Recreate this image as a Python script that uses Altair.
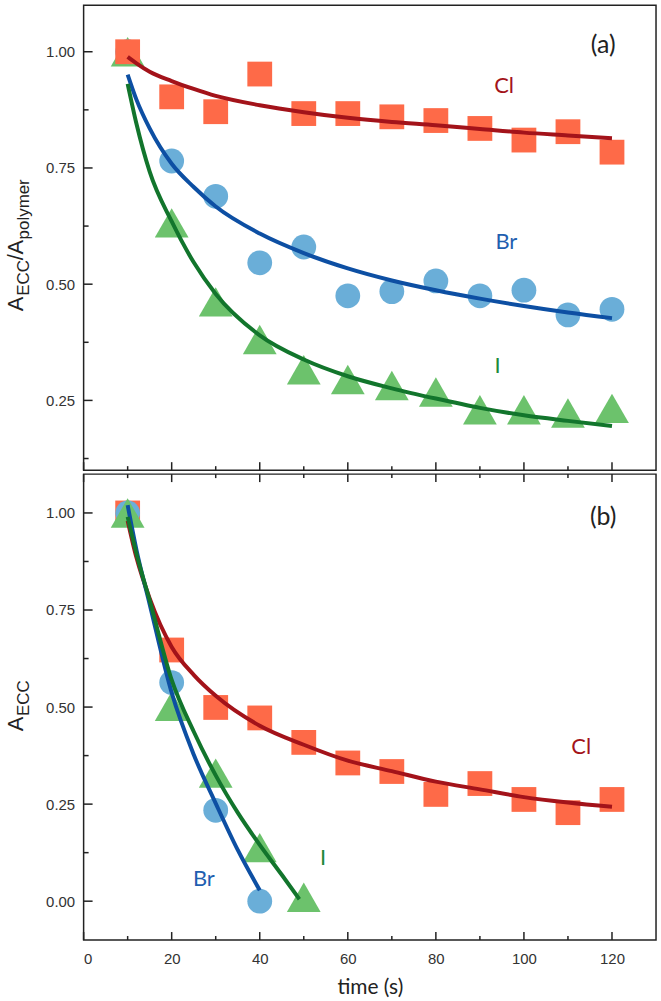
import altair as alt
import pandas as pd

# ---------------- data ----------------
t = [10, 20, 30, 40, 50, 60, 70, 80, 90, 100, 110, 120]

# panel (a)  A_ECC / A_polymer
a_cl = [1.00, 0.903, 0.871, 0.952, 0.867, 0.867, 0.860, 0.852, 0.835, 0.810, 0.828, 0.784]
a_br = [1.00, 0.765, 0.689, 0.546, 0.580, 0.475, 0.484, 0.507, 0.475, 0.487, 0.434, 0.446]
a_i = [1.00, 0.632, 0.462, 0.381, 0.316, 0.295, 0.282, 0.268, 0.230, 0.230, 0.223, 0.233]

fit_t_a = [10, 12, 15, 20, 25, 30, 40, 50, 60, 70, 80, 90, 100, 110, 120]
a_cl_fit = [0.989, 0.975, 0.957, 0.937, 0.920, 0.905, 0.885, 0.870, 0.858, 0.849, 0.842, 0.834, 0.826, 0.820, 0.814]
a_br_fit = [0.951, 0.897, 0.835, 0.759, 0.709, 0.667, 0.609, 0.567, 0.534, 0.508, 0.487, 0.469, 0.453, 0.439, 0.427]
a_i_fit = [0.931, 0.845, 0.742, 0.635, 0.547, 0.479, 0.390, 0.338, 0.302, 0.276, 0.254, 0.234, 0.218, 0.206, 0.195]

# panel (b)  A_ECC
b_cl = [1.00, 0.647, 0.499, 0.472, 0.409, 0.356, 0.334, 0.275, 0.303, 0.262, 0.228, 0.262]
t_b_br = [10, 20, 30, 40]
b_br = [1.00, 0.563, 0.234, 0.00]
t_b_i = [10, 20, 30, 40, 50]
b_i = [1.00, 0.502, 0.330, 0.138, 0.010]

fit_t_b_cl = [10, 12, 15, 20, 25, 30, 40, 50, 60, 70, 80, 90, 100, 110, 120]
b_cl_fit = [0.980, 0.885, 0.780, 0.655, 0.583, 0.529, 0.452, 0.403, 0.362, 0.335, 0.308, 0.288, 0.268, 0.254, 0.243]
fit_t_b_br = [10, 12, 15, 20, 25, 30, 35, 40]
b_br_fit = [1.02, 0.905, 0.765, 0.537, 0.378, 0.252, 0.132, 0.028]
fit_t_b_i = [10, 12, 15, 20, 25, 30, 35, 40, 45, 49]
b_i_fit = [0.99, 0.895, 0.775, 0.570, 0.437, 0.324, 0.228, 0.145, 0.068, 0.005]

x_major = [0, 20, 40, 60, 80, 100, 120]
x_minor = [10, 30, 50, 70, 90, 110]
ya_major = [0.25, 0.50, 0.75, 1.00]
ya_minor = [0.125, 0.375, 0.625, 0.875]
yb_major = [0.00, 0.25, 0.50, 0.75, 1.00]
yb_minor = [0.125, 0.375, 0.625, 0.875]

labels_a = pd.DataFrame({"t": [118, 95.5, 96, 94], "v": [1.014, 0.927, 0.591, 0.325],
                         "txt": ["(a)", "Cl", "Br", "I"], "c": ["#222222", "#a3131a", "#1f5fb0", "#1e8a3a"],
                         "s": [25, 22, 22, 22]})
labels_b = pd.DataFrame({"t": [118, 113, 27.3, 54.4], "v": [0.99, 0.397, 0.056, 0.110],
                         "txt": ["(b)", "Cl", "Br", "I"], "c": ["#222222", "#a3131a", "#1f5fb0", "#1e8a3a"],
                         "s": [25, 22, 22, 22]})

# ---------------- styling ----------------
SQ = "#fe6a48"
CI = "#6aaed8"
TR = "#6cc26c"
CL_LINE = "#a3131a"
BR_LINE = "#0d4fa3"
I_LINE = "#12752c"
TRI = "M-1,0.87L0,-0.87L1,0.87Z"

W = 575
HA = 467
HB = 468

xscale = alt.Scale(domain=[0, 130], nice=False, zero=False)
ya_scale = alt.Scale(domain=[0.1, 1.1], nice=False, zero=False)
yb_scale = alt.Scale(domain=[-0.1, 1.1], nice=False, zero=False)

xa_axis = None
xb_axis = alt.Axis(values=x_major, format="d", ticks=False, domain=False, grid=False,
                   title="time (s)", labelPadding=12, titlePadding=10)
ya_axis = alt.Axis(values=ya_major, format=".2f", ticks=False, domain=False, grid=False,
                   title=None, labelPadding=9)
yb_axis = alt.Axis(values=yb_major, format=".2f", ticks=False, domain=False, grid=False,
                   title=None, labelPadding=9)


def enc(xaxis, yscale, yaxis):
    return dict(x=alt.X("t:Q", scale=xscale, axis=xaxis),
                y=alt.Y("v:Q", scale=yscale, axis=yaxis))


def pts(tv, vv, shape, color, size, xaxis, yscale, yaxis):
    df = pd.DataFrame({"t": tv, "v": vv})
    return alt.Chart(df).mark_point(shape=shape, filled=True, opacity=1, size=size,
                                    color=color, strokeWidth=0).encode(**enc(xaxis, yscale, yaxis))


def fit(tv, vv, color, xaxis, yscale, yaxis):
    df = pd.DataFrame({"t": tv, "v": vv})
    return alt.Chart(df).mark_line(color=color, strokeWidth=4, interpolate="monotone").encode(
        **enc(xaxis, yscale, yaxis))


def yticks(vals, length, xaxis, yscale, yaxis):
    df = pd.DataFrame({"v": vals})
    return alt.Chart(df).mark_rule(color="#222", strokeWidth=1.5).encode(
        y=alt.Y("v:Q", scale=yscale, axis=yaxis), x=alt.value(0), x2=alt.value(length))


def xticks(vals, length, H, top, xaxis, yscale, yaxis):
    df = pd.DataFrame({"t": vals})
    if top:
        return alt.Chart(df).mark_rule(color="#222", strokeWidth=1.5).encode(
            x=alt.X("t:Q", scale=xscale, axis=xaxis), y=alt.value(0), y2=alt.value(length))
    return alt.Chart(df).mark_rule(color="#222", strokeWidth=1.5).encode(
        x=alt.X("t:Q", scale=xscale, axis=xaxis), y=alt.value(H), y2=alt.value(H - length))


def labels(df, xaxis, yscale, yaxis):
    return alt.Chart(df).mark_text(font="Lato", align="center", baseline="middle").encode(
        text="txt:N", color=alt.Color("c:N", scale=None), size=alt.Size("s:Q", scale=None),
        **enc(xaxis, yscale, yaxis))


def title_piece(txt, xpx, ypx, size):
    return alt.Chart(pd.DataFrame({"k": [0]})).mark_text(
        font="Liberation Sans", fontSize=size, angle=270, align="center", baseline="alphabetic",
        color="#222").encode(x=alt.value(xpx), y=alt.value(ypx), text=alt.value(txt))


# ---------------- panel (a) ----------------
A = (xa_axis, ya_scale, ya_axis)
panel_a = alt.layer(
    pts(t, a_i, TRI, TR, 1150, *A),
    pts(t, a_br, "circle", CI, 620, *A),
    pts(t, a_cl, "square", SQ, 620, *A),
    fit(fit_t_a, a_cl_fit, CL_LINE, *A),
    fit(fit_t_a, a_br_fit, BR_LINE, *A),
    fit(fit_t_a, a_i_fit, I_LINE, *A),
    yticks(ya_major, 9, *A),
    yticks(ya_minor, 5, *A),
    xticks(x_major, 8, HA, False, *A),
    xticks(x_minor, 4, HA, False, *A),
    labels(labels_a, *A),
    title_piece("A", -61, 300, 22),
    title_piece("ECC", -55, 274, 17),
    title_piece("/", -61, 253, 22),
    title_piece("A", -61, 243, 22),
    title_piece("polymer", -55, 205, 17),
).properties(width=W, height=HA)

# ---------------- panel (b) ----------------
B = (xb_axis, yb_scale, yb_axis)
panel_b = alt.layer(
    pts(t, b_cl, "square", SQ, 620, *B),
    pts(t_b_br, b_br, "circle", CI, 620, *B),
    pts(t_b_i, b_i, TRI, TR, 1150, *B),
    fit(fit_t_b_cl, b_cl_fit, CL_LINE, *B),
    fit(fit_t_b_br, b_br_fit, BR_LINE, *B),
    fit(fit_t_b_i, b_i_fit, I_LINE, *B),
    yticks(yb_major, 9, *B),
    yticks(yb_minor, 5, *B),
    xticks(x_major, 8, HB, False, *B),
    xticks(x_minor, 4, HB, False, *B),
    xticks(x_major, 8, HB, True, *B),
    xticks(x_minor, 4, HB, True, *B),
    labels(labels_b, *B),
    title_piece("A", -61, 251, 22),
    title_piece("ECC", -55, 225, 17),
).properties(width=W, height=HB)

chart = alt.vconcat(panel_a, panel_b, spacing=0).properties(
    padding={"left": 4, "top": 2, "right": 4, "bottom": 2},
    background="white",
).configure_view(
    stroke="#222", strokeWidth=1.5
).configure_axis(
    labelFont="Liberation Sans", labelFontSize=15, labelColor="#333",
    titleFont="Lato", titleFontSize=21, titleFontWeight="normal", titleColor="#222",
)

chart.save("out.html", embed_options={"renderer": "svg", "actions": False})
